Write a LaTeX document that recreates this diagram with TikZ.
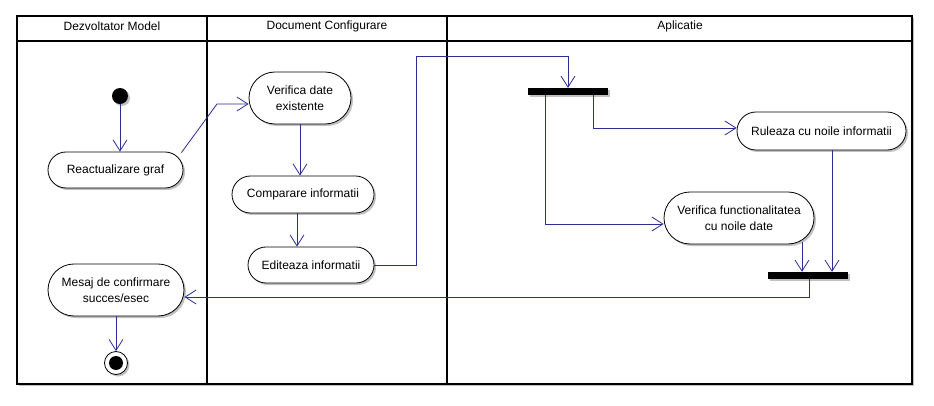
\documentclass[tikz,border=0pt]{standalone}
\usepackage{fontspec}
\setmainfont{Liberation Sans}
\usetikzlibrary{arrows.meta,shadows,calc}
\definecolor{lineblue}{RGB}{45,45,150}
\begin{document}
\begin{tikzpicture}[x=1pt,y=-1pt,
  font=\fontsize{12}{15.5}\selectfont,
  myshadow/.style={drop shadow={shadow xshift=2pt,shadow yshift=-2pt,fill=black!35,opacity=0.7}},
  act/.style 2 args={draw,fill=white,line width=0.8pt,minimum width=#1pt,minimum height=#2pt,
     inner sep=0pt,align=center,rounded corners=#2*0.5pt,myshadow},
  bar/.style={fill=black,minimum width=80pt,minimum height=7pt,inner sep=0pt,myshadow},
  flow/.style={draw=lineblue,line width=0.8pt,-{Straight Barb[length=11pt,width=14pt,line width=0.8pt]}},
  flowline/.style={draw=lineblue,line width=0.8pt},
  hdr/.style={inner sep=0pt}]
\useasboundingbox (0,0) rectangle (934,406);
\fill[white] (0,0) rectangle (934,406);
% frame
\draw[line width=1.2pt,fill=white,myshadow] (17,16) rectangle (912,384);
\draw[line width=1.2pt] (17,41) -- (912,41);
\draw[line width=1.2pt] (207,16) -- (207,384);
\draw[line width=1.2pt] (447,16) -- (447,384);
\node[hdr] (h1) at (112,26) {Dezvoltator Model};
\node[hdr] (h2) at (327,26) {Document Configurare};
\node[hdr] (h3) at (680,26) {Aplicatie};
% nodes
\node[circle,fill=black,minimum size=16pt,inner sep=0pt,myshadow] (start) at (120,96) {};
\node[act={135}{36}] (rg) at (115.5,170) {Reactualizare graf};
\node[act={102}{52}] (vde) at (300,98) {Verifica date\\existente};
\node[act={142}{37}] (ci) at (303,194.5) {Comparare informatii};
\node[act={126}{36}] (ei) at (311,265) {Editeaza informatii};
\node[act={136}{52}] (mc) at (116,290) {Mesaj de confirmare\\succes/esec};
\node[circle,draw,line width=0.8pt,fill=white,minimum size=23pt,inner sep=0pt,myshadow] (end) at (116,363) {};
\node[circle,fill=black,minimum size=14pt,inner sep=0pt] (endin) at (end.center) {};
\node[bar] (fork) at (568,91.5) {};
\node[act={169}{38}] (rcn) at (821.5,131) {Ruleaza cu noile informatii};
\node[act={150}{52}] (vf) at (739,218) {Verifica functionalitatea\\cu noile date};
\node[bar] (join) at (808,275.5) {};
% helper coordinates
\coordinate (c1) at (217,104);
\coordinate (c2) at (416,56);
% connectors
\draw[flow] (start.south) -- (start.south |- rg.north);
\draw[flow] ([xshift=-2pt,yshift=-1pt]rg.north east) -- (c1) -- (c1 -| vde.west);
\draw[flow] (vde.south) -- (vde.south |- ci.north);
\draw[flow] ([xshift=-6pt]ci.south) -- ([xshift=-6pt]ci.south |- ei.north);
\draw[flowline] (ei.east) -| (c2);
\draw[flow] (c2) -| (fork.north);
\draw[flow] ([xshift=-23pt]fork.south) |- ([yshift=-6pt]vf.west);
\draw[flow] ([xshift=25pt]fork.south) |- ([yshift=3pt]rcn.west);
\draw[flow] ([xshift=10.5pt]rcn.south) -- ([xshift=10.5pt]rcn.south |- join.north);
\draw[flow] ([xshift=63pt,yshift=2pt]vf.south) -- ([xshift=63pt]vf.south |- join.north);
\draw[flow] ([xshift=1pt]join.south) |- ([yshift=-7pt]mc.east);
\draw[flow] (mc.south) -- (end.north);
\end{tikzpicture}
\end{document}
